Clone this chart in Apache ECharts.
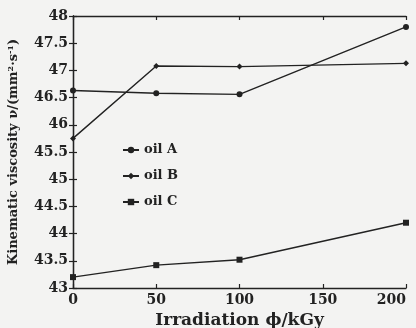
<!DOCTYPE html>
<html><head><meta charset="utf-8">
<script src="https://cdn.jsdelivr.net/npm/echarts@6/dist/echarts.min.js"></script>
<style>html,body{margin:0;padding:0;background:#f3f3f2;}#c{width:416px;height:328px;}</style>
</head><body><div id="c"></div>
<script>
const xValues = [0, 50, 100, 200];
const oilA = [46.63, 46.58, 46.56, 47.8];
const oilB = [45.75, 47.08, 47.07, 47.13];
const oilC = [43.2, 43.42, 43.52, 44.2];
const seriesNames = ['oil A', 'oil B', 'oil C'];
const xTitle = 'Irradiation ϕ/kGy';

const F = 'DejaVu Serif';
const ink = '#222';
function pts(v){ return xValues.map((x,i)=>[x, v[i]]); }
const chart = echarts.init(document.getElementById('c'));
const axisCommon = {
  axisLine:{show:true,lineStyle:{color:ink,width:1.3}},
  axisTick:{show:true,inside:true,length:4,lineStyle:{color:ink,width:1.2}},
  splitLine:{show:false}
};
chart.setOption({
  backgroundColor:'#f3f3f2',
  animation:false,
  grid:{left:73,right:10,top:16,bottom:40,outerBoundsMode:'none',containLabel:false},
  legend:{
    orient:'vertical', left:117, top:137, itemGap:10, itemWidth:16, itemHeight:8,
    data:seriesNames,
    textStyle:{fontFamily:F,fontWeight:'bold',fontSize:13,color:ink,lineHeight:16}
  },
  xAxis:[
    Object.assign({type:'value',min:0,max:200,interval:50,position:'bottom',
      name:xTitle,nameLocation:'middle',nameGap:24,
      nameTextStyle:{fontFamily:F,fontWeight:'bold',fontSize:17,color:ink},
      axisLabel:{fontFamily:F,fontWeight:'bold',fontSize:14,color:ink,margin:5,alignMaxLabel:'right'}},axisCommon),
    Object.assign({type:'value',min:0,max:200,interval:50,position:'top',axisLabel:{show:false}},axisCommon)
  ],
  yAxis:[
    Object.assign({type:'value',min:43,max:48,interval:0.5,position:'left',
      name:'{n|Kinematic viscosity ν/(mm}{s|2}{n|·s}{s|-1}{n|)}',nameLocation:'middle',nameGap:52,
      nameTextStyle:{rich:{n:{fontFamily:F,fontWeight:'bold',fontSize:13,color:ink},
                           s:{fontFamily:F,fontWeight:'bold',fontSize:8,color:ink,verticalAlign:'top',padding:[0,0,6,0]}}},
      axisLabel:{fontFamily:F,fontWeight:'bold',fontSize:14,color:ink,margin:5}},axisCommon),
    Object.assign({type:'value',min:43,max:48,interval:0.5,position:'right',axisLabel:{show:false}},axisCommon)
  ],
  series:[
    {name:seriesNames[0],type:'line',data:pts(oilA),symbol:'circle',symbolSize:6,
      lineStyle:{color:ink,width:1.4},itemStyle:{color:ink}},
    {name:seriesNames[1],type:'line',data:pts(oilB),symbol:'diamond',symbolSize:6,
      lineStyle:{color:ink,width:1.4},itemStyle:{color:ink}},
    {name:seriesNames[2],type:'line',data:pts(oilC),symbol:'rect',symbolSize:6,
      lineStyle:{color:ink,width:1.4},itemStyle:{color:ink}}
  ]
});
</script></body></html>
